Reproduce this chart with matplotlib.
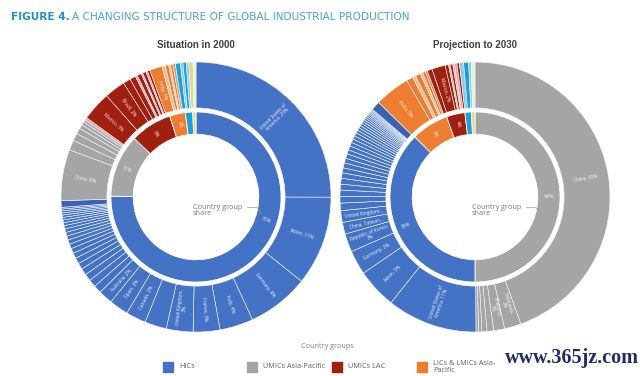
import numpy as np
import matplotlib
matplotlib.use("Agg")
import matplotlib.pyplot as plt
from matplotlib.patches import Rectangle

# ---- data (shares in %, clockwise from 12 o'clock) ----
GROUP_KEYS = ["hic", "umic_ap", "lac", "lic"]
GROUP_NAMES = ["HICs", "UMICs Asia-Pacific", "UMICs LAC", "LICs & LMICs Asia-\nPacific"]

Y2000_OUTER_VALUES = (
    [25.0, 10.7, 7.4, 4.0, 3.2, 3.2, 2.6, 2.4, 2.3, 1.7]
    + [0.95, 0.9, 0.85, 0.8, 0.75, 0.7, 0.65, 0.6, 0.56, 0.52, 0.48,
       0.45, 0.42, 0.39, 0.36, 0.33, 0.3, 0.28, 0.26, 0.24, 0.22, 0.2]
    + [0.8]
    + [6.1, 1.2, 0.9, 0.7, 0.5, 0.4, 0.3]
    + [0.3, 3.5, 2.5, 0.9, 0.7, 0.25, 0.5, 0.2, 0.4, 0.2, 0.3]
    + [1.5, 0.4, 0.4, 0.2, 0.3, 0.3]
    + [0.6, 0.3, 0.4, 0.3, 0.5, 0.35]
)
Y2000_OUTER_GROUPS = (
    ["hic"] * 32 + ["hic2"]
    + ["umic_ap"] * 7
    + ["lac2", "lac", "lac", "lac", "lac", "lac2", "lac", "lac2", "lac", "lac2", "lac"]
    + ["lic", "lic2", "lic", "lic2", "lic", "tan"]
    + ["cyan", "cyan2", "cyan", "cyan2", "pale", "pale2"]
)
Y2000_OUTER_TEXT = (
    ["United States of\nAmerica, 25%", "Japan, 11%", "Germany, 8%", "Italy, 4%",
     "France, 3%", "United Kingdom,\n3%", "", "Canada, 2%", "Spain, 2%", "Australia, 2%"]
    + [""] * 23
    + ["China, 8%"] + [""] * 6
    + ["", "Mexico, 3%", "Brazil, 2%"] + [""] * 8
    + ["India, 1%"] + [""] * 5
    + [""] * 6
)
Y2000_INNER_VALUES = [75.0, 11.9, 7.9, 3.0, 1.4, 0.6]
Y2000_INNER_GROUPS = ["hic", "umic_ap", "lac", "lic", "cyan", "pale"]
Y2000_INNER_TEXT = ["71%", "11%", "6%", "2%", "", ""]

Y2030_OUTER_VALUES = (
    [44.5, 2.0, 1.3, 0.8, 0.6, 0.4, 0.3]
    + [10.8, 4.8, 2.9, 2.2, 1.4, 1.4]
    + [0.9, 0.8, 0.75, 0.7, 0.7, 0.65, 0.6, 0.6, 0.55, 0.55, 0.5, 0.5, 0.45,
       0.45, 0.4, 0.4, 0.35, 0.35, 0.3, 0.3, 0.28, 0.26, 0.24, 0.22, 0.2,
       0.18, 0.16, 0.15, 0.14, 0.13, 0.12]
    + [1.1]
    + [4.2, 0.8, 0.4, 0.6, 0.3, 0.35, 0.25]
    + [0.6, 1.6, 0.4, 0.2, 0.3, 0.2, 0.3, 0.3]
    + [0.5, 0.6, 0.3, 0.45]
)
Y2030_OUTER_GROUPS = (
    ["umic_ap"] * 7
    + ["hic"] * 6 + ["hic"] * 31 + ["hic2"]
    + ["lic", "lic", "lic2", "lic", "lic2", "lic", "lic"]
    + ["lac", "lac", "lac", "lac2", "lac", "lac2", "lac2", "lac"]
    + ["cyan2", "cyan", "cyan2", "pale2"]
)
Y2030_OUTER_TEXT = (
    ["China, 45%", "Indonesia,\n2%", "Thailand,\n1%", "", "", "", ""]
    + ["United States of\nAmerica, 11%", "Japan, 5%", "Germany, 3%",
       "Republic of Korea,\n3%", "China, Taiwan...", "United Kingdom..."]
    + [""] * 32
    + ["India, 5%"] + [""] * 6
    + ["", "Mexico, 2%"] + [""] * 6
    + [""] * 4
)
Y2030_INNER_VALUES = [50.0, 37.5, 7.1, 3.5, 1.25, 0.65]
Y2030_INNER_GROUPS = ["umic_ap", "hic", "lic", "lac", "cyan", "pale"]
Y2030_INNER_TEXT = ["49%", "38%", "7%", "4%", "", ""]

# ---- style ----
COLORS = {
    "hic": "#4472c4", "hic2": "#3a63b3",
    "umic_ap": "#a5a5a5",
    "lac": "#a01f0e", "lac2": "#e8a3a3",
    "lic": "#ed7d31", "lic2": "#f6b98a", "tan": "#c9a27e",
    "cyan": "#1e9fd6", "cyan2": "#84cdee",
    "pale": "#dcdc86", "pale2": "#eeeed2",
}
R = 135  # outer radius in pixels
PAD = 1.02


def put_label(ax, wedge, text, r, size, angle=None):
    if not text:
        return
    theta = angle if angle is not None else 0.5 * (wedge.theta1 + wedge.theta2)
    t = np.deg2rad(theta)
    rot = theta if np.cos(t) >= 0 else theta + 180
    ax.text(r * np.cos(t), r * np.sin(t), text, rotation=rot, rotation_mode="anchor",
            ha="center", va="center", fontsize=size, color="white", alpha=0.9,
            linespacing=0.95, family="Open Sans")


def draw_donut(ax, ov, og, ot, iv, ig, it, first_angle=None):
    wo, _ = ax.pie(ov, radius=1.0, startangle=90, counterclock=False,
                   colors=[COLORS[g] for g in og],
                   wedgeprops=dict(width=0.34, edgecolor="#f4f7fc", linewidth=0.4))
    wi, _ = ax.pie(iv, radius=0.63, startangle=90, counterclock=False,
                   colors=[COLORS[g] for g in ig],
                   wedgeprops=dict(width=0.165, edgecolor="white", linewidth=0.6))
    for w, t in zip(wo, ot):
        put_label(ax, w, t, 0.83, 3.4)
    for k, (w, t) in enumerate(zip(wi, it)):
        put_label(ax, w, t, 0.55, 3.8, first_angle if k == 0 else None)
    ax.annotate("Country group\nshare", xy=(0.49, -0.14), xytext=(-0.025, -0.1),
                ha="left", va="center", fontsize=5.2, color="#7a7a7a",
                family="Open Sans", linespacing=0.95,
                arrowprops=dict(arrowstyle="-", color="#9a9a9a", lw=0.5,
                                relpos=(1.0, 0.72),
                                connectionstyle="angle,angleA=0,angleB=115,rad=3"))
    ax.set_xlim(-PAD, PAD)
    ax.set_ylim(-PAD, PAD)
    ax.set_aspect("equal")
    ax.axis("off")


def make_axes(fig, cx, cy):
    W, H = 640, 376
    s = 2 * R * PAD
    return fig.add_axes([(cx - s / 2) / W, (H - cy - s / 2) / H, s / W, s / H])


def main():
    fig = plt.figure(figsize=(6.4, 3.76), dpi=100)
    fig.patch.set_facecolor("white")

    ax1 = make_axes(fig, 196, 197)
    draw_donut(ax1, Y2000_OUTER_VALUES, Y2000_OUTER_GROUPS, Y2000_OUTER_TEXT,
               Y2000_INNER_VALUES, Y2000_INNER_GROUPS, Y2000_INNER_TEXT, first_angle=-18)
    ax2 = make_axes(fig, 475, 197)
    draw_donut(ax2, Y2030_OUTER_VALUES, Y2030_OUTER_GROUPS, Y2030_OUTER_TEXT,
               Y2030_INNER_VALUES, Y2030_INNER_GROUPS, Y2030_INNER_TEXT)

    fig.text(196 / 640, 1 - 45 / 376, "Situation in 2000", ha="center", va="center",
             fontsize=7, fontweight="bold", color="#404040", family="Liberation Sans")
    fig.text(475 / 640, 1 - 45 / 376, "Projection to 2030", ha="center", va="center",
             fontsize=7, fontweight="bold", color="#404040", family="Liberation Sans")

    # figure title in two weights
    t1 = fig.text(11 / 640, 1 - 17 / 376, "FIGURE 4.", ha="left", va="center",
                  fontsize=7.6, fontweight="bold", color="#1f93bd",
                  family="Liberation Sans Narrow")
    fig.canvas.draw()
    bb = t1.get_window_extent()
    fig.text((bb.x1 + 2) / 640, 1 - 17 / 376,
             "A CHANGING STRUCTURE OF GLOBAL INDUSTRIAL PRODUCTION",
             ha="left", va="center", fontsize=7.6, color="#45a7cc",
             family="Liberation Sans Narrow")

    # legend
    fig.text(327 / 640, 1 - 347 / 376, "Country groups", ha="center", va="center",
             fontsize=5.2, color="#808080", family="Open Sans")
    for x0, key, name in zip([163, 247, 332, 417], GROUP_KEYS, GROUP_NAMES):
        fig.patches.append(Rectangle((x0 / 640, 1 - 372 / 376), 10 / 640, 10 / 376,
                                     transform=fig.transFigure, color=COLORS[key]))
        fig.text((x0 + 16) / 640, 1 - 367 / 376, name, ha="left", va="center",
                 fontsize=5.2, color="#606060", family="Open Sans", linespacing=1.0)

    fig.text(505 / 640, 1 - 358 / 376, "www.365jz.com", ha="left", va="center",
             fontsize=14.5, fontweight="bold", color="#1b2d6b", family="Liberation Serif")

    fig.savefig("out.png", dpi=100, facecolor="white")


if __name__ == "__main__":
    main()
